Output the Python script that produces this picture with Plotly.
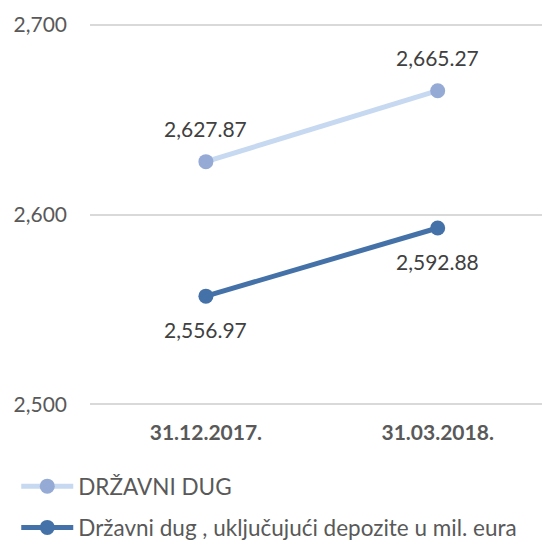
import plotly.graph_objects as go

categories = ["31.12.2017.", "31.03.2018."]
drzavni_dug = [2627.87, 2665.27]
drzavni_dug_depoziti = [2556.97, 2592.88]
series_names = ["DRŽAVNI DUG", "Državni dug , uključujući depozite u mil. eura"]
tick_vals = [2500, 2600, 2700]

FONT = "Lato"
fig = go.Figure()
fig.add_trace(go.Scatter(
    x=categories, y=drzavni_dug, name=series_names[0], mode="lines+markers",
    line=dict(color="#C6D9F1", width=5),
    marker=dict(color="#95AAD4", size=15),
    legendgroup="a", cliponaxis=False,
))
fig.add_trace(go.Scatter(
    x=categories, y=drzavni_dug_depoziti, name=series_names[1], mode="lines+markers",
    line=dict(color="#4472A8", width=5),
    marker=dict(color="#4472A8", size=15),
    legendgroup="b", cliponaxis=False,
))

for c, v in zip(categories, drzavni_dug):
    fig.add_annotation(x=c, y=v, text=f"{v:,.2f}", showarrow=False, yshift=33,
                       font=dict(family=FONT, size=21, color="#404040"))
for c, v in zip(categories, drzavni_dug_depoziti):
    fig.add_annotation(x=c, y=v, text=f"{v:,.2f}", showarrow=False, yshift=-33,
                       font=dict(family=FONT, size=21, color="#404040"))

fig.update_layout(
    width=542, height=541,
    margin=dict(l=90, r=0, t=21, b=133, autoexpand=False),
    plot_bgcolor="white", paper_bgcolor="white",
    font=dict(family=FONT, size=21, color="#595959"),
    showlegend=True,
    legend=dict(xref="container", yref="container", x=0.03, xanchor="left",
                y=1 - 465 / 541, yanchor="top", itemwidth=52,
                orientation="v", tracegroupgap=9,
                font=dict(family=FONT, size=22.5, color="#595959")),
    xaxis=dict(type="category", range=[-0.5, 1.45], showgrid=False, showline=False,
               ticks="", automargin=False, ticklabelstandoff=10,
               tickfont=dict(family=FONT, size=21, color="#595959")),
    yaxis=dict(range=[2498, 2702], tickvals=tick_vals, tickformat=",d",
               showgrid=True, gridcolor="#D9D9D9", gridwidth=1.5, zeroline=False,
               showline=False, ticks="", ticklabelstandoff=22, automargin=False,
               tickfont=dict(family=FONT, size=21, color="#595959")),
)
fig.update_xaxes(ticktext=[f"<b>{c}</b>" for c in categories], tickvals=categories)
fig.write_html("out.html", config={"displayModeBar": False},
               post_script="document.body.style.margin='0';document.body.style.overflow='hidden';")
